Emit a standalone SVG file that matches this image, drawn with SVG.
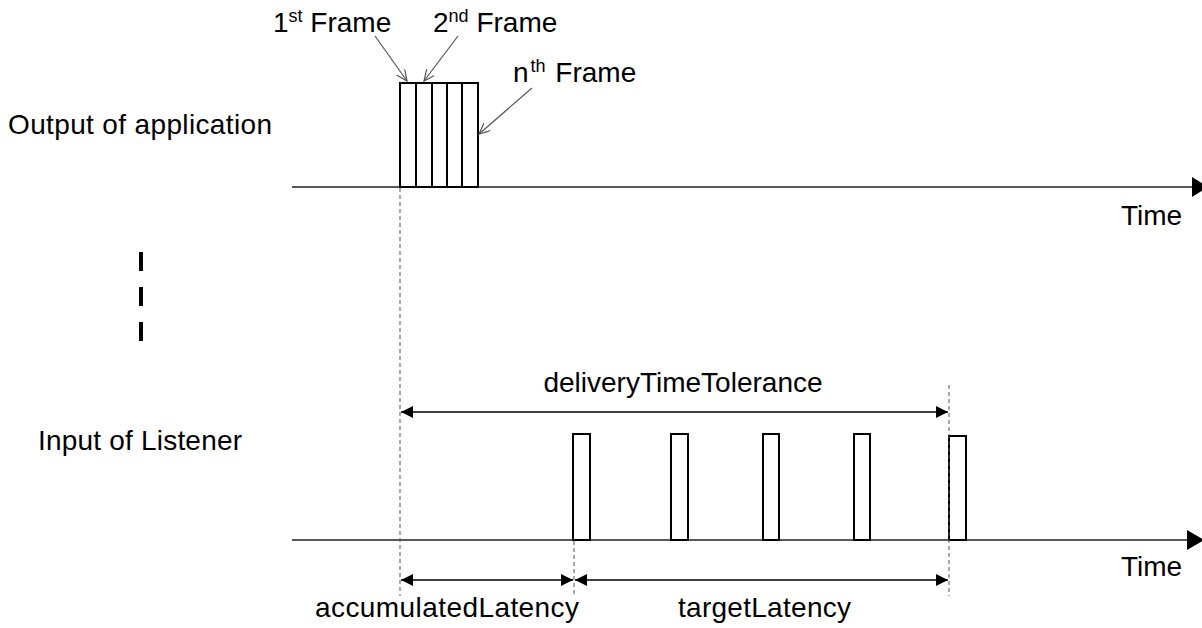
<svg xmlns="http://www.w3.org/2000/svg" width="1202" height="628" viewBox="0 0 1202 628">
  <style>
    text { font-family: "Liberation Sans", Arial, sans-serif; font-size: 28px; fill: #000; }
    .sup { font-size: 18px; }
    .axis { stroke: #222; stroke-width: 1.5; fill: none; }
    .frame { fill: #fff; stroke: #000; stroke-width: 2; }
    .guide { stroke: #555; stroke-width: 1; stroke-dasharray: 4 3; fill: none; }
    .dim { stroke: #000; stroke-width: 1.5; fill: none; marker-start: url(#dimHead); marker-end: url(#dimHead); }
    .pointer { stroke: #555; stroke-width: 1.2; fill: none; marker-end: url(#openHead); }
  </style>
  <defs>
    <marker id="dimHead" markerUnits="userSpaceOnUse" markerWidth="13" markerHeight="13" refX="12" refY="6" orient="auto-start-reverse" viewBox="0 0 13 13">
      <path d="M0,0 L12,6 L0,12 z" fill="#000"/>
    </marker>
    <marker id="openHead" markerUnits="userSpaceOnUse" markerWidth="14" markerHeight="14" refX="11" refY="5" orient="auto" viewBox="0 0 14 14">
      <path d="M0,0 L11,5 L0,10" fill="none" stroke="#555" stroke-width="1.2"/>
    </marker>
  </defs>

  <rect x="0" y="0" width="1202" height="628" fill="#fff"/>

  <!-- timelines -->
  <g id="timeline-output">
    <line class="axis" x1="292" y1="187" x2="1194" y2="187"/>
    <polygon points="1192,177 1208,187 1192,197" fill="#000"/>
    <text x="1121" y="225">Time</text>
  </g>
  <g id="timeline-input">
    <line class="axis" x1="292" y1="540" x2="1190" y2="540"/>
    <polygon points="1187,530 1204,540 1187,550" fill="#000"/>
    <text x="1121" y="576">Time</text>
  </g>

  <!-- row labels -->
  <g id="label-output">
    <text x="8" y="134" textLength="264">Output of application</text>
  </g>
  <g id="label-input">
    <text x="38" y="450" textLength="204">Input of Listener</text>
  </g>

  <!-- break mark -->
  <g id="break-mark">
    <line x1="141" y1="252" x2="141" y2="341" stroke="#000" stroke-width="4" stroke-dasharray="19 16"/>
  </g>

  <!-- frames output of application -->
  <g id="frames-output">
    <rect class="frame" x="400" y="83" width="78" height="104"/>
    <line x1="416" y1="83" x2="416" y2="187" stroke="#000" stroke-width="2"/>
    <line x1="432" y1="83" x2="432" y2="187" stroke="#000" stroke-width="2"/>
    <line x1="447" y1="83" x2="447" y2="187" stroke="#000" stroke-width="2"/>
    <line x1="462" y1="83" x2="462" y2="187" stroke="#000" stroke-width="2"/>
  </g>

  <!-- frames input of listener -->
  <g id="frames-input">
    <rect class="frame" x="573" y="434" width="17" height="106"/>
    <rect class="frame" x="671" y="434" width="17" height="106"/>
    <rect class="frame" x="763" y="434" width="16" height="106"/>
    <rect class="frame" x="854" y="434" width="16" height="106"/>
    <rect class="frame" x="949" y="436" width="17" height="104"/>
  </g>

  <!-- frame labels -->
  <g id="label-first-frame">
    <text x="273" y="32">1<tspan class="sup" dy="-10">st</tspan><tspan dy="10"> Frame</tspan></text>
  </g>
  <g id="label-second-frame">
    <text x="433" y="32">2<tspan class="sup" dy="-10">nd</tspan><tspan dy="10"> Frame</tspan></text>
  </g>
  <g id="label-nth-frame">
    <text x="513" y="82">n<tspan class="sup" dy="-10" dx="2">th</tspan><tspan dy="10" dx="2"> Frame</tspan></text>
  </g>

  <!-- measurement labels -->
  <g id="label-delivery">
    <text x="683" y="392" text-anchor="middle">deliveryTimeTolerance</text>
  </g>
  <g id="label-accumulated">
    <text x="315" y="617" textLength="264">accumulatedLatency</text>
  </g>
  <g id="label-target">
    <text x="678" y="617" textLength="173">targetLatency</text>
  </g>

  <!-- connectors -->
  <g id="connectors">
    <line class="guide" x1="400" y1="188" x2="400" y2="596"/>
    <line class="guide" x1="574" y1="541" x2="574" y2="596"/>
    <line class="guide" x1="949" y1="385" x2="949" y2="596"/>

    <line class="dim" x1="401" y1="412" x2="948" y2="412"/>
    <line class="dim" x1="401" y1="580" x2="573" y2="580"/>
    <line class="dim" x1="575" y1="580" x2="948" y2="580"/>

    <line class="pointer" x1="375" y1="36" x2="407" y2="81"/>
    <line class="pointer" x1="458" y1="36" x2="424" y2="81"/>
    <line class="pointer" x1="532" y1="88" x2="479" y2="134"/>
  </g>
</svg>
